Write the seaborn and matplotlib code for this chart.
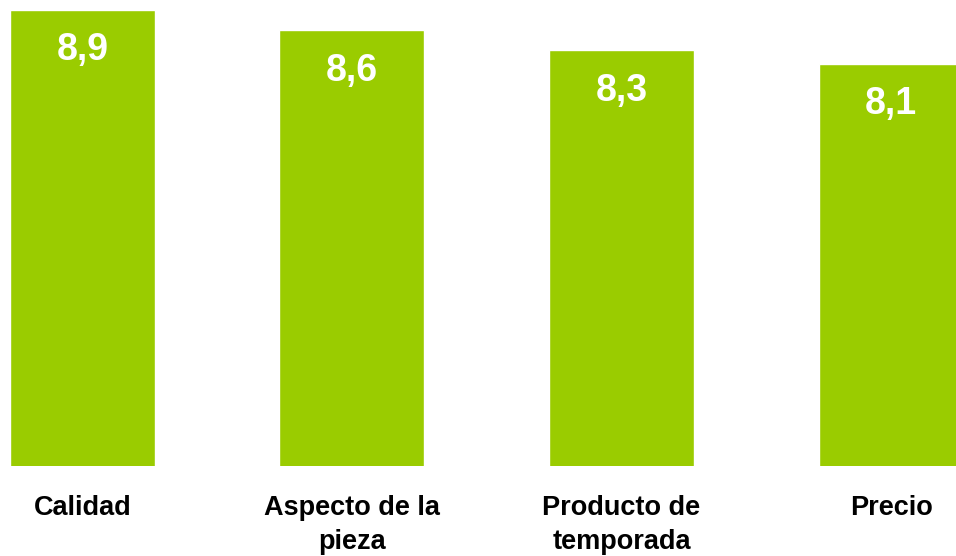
import matplotlib
matplotlib.use("Agg")
import matplotlib.pyplot as plt
import seaborn as sns
import pandas as pd

# Average score per attribute
categories = ["Calidad", "Aspecto de la\npieza", "Producto de\ntemporada", "Precio"]
scores = [8.9, 8.6, 8.3, 8.1]
score_labels = ["8,9", "8,6", "8,3", "8,1"]

df = pd.DataFrame({"categoria": categories, "nota": scores})

sns.set_theme(style="white")
plt.rcParams["font.family"] = ["Liberation Sans", "DejaVu Sans"]

fig = plt.figure(figsize=(9.56, 5.56), dpi=100)
ax = fig.add_axes([0.0, 90 / 556, 1.0, 466 / 556])

sns.barplot(data=df, x="categoria", y="nota", color="#9ACC00",
            saturation=1, width=0.538, ax=ax)

ax.set_xlim(-0.306, 3.241)
ax.set_ylim(2.144, 9.048)

for i, (v, lab) in enumerate(zip(scores, score_labels)):
    ax.text(i, v - 0.6, lab, ha="center", va="center", color="white",
            fontsize=27, fontweight="bold")

ax.set_xlabel("")
ax.set_ylabel("")
ax.set_yticks([])
ax.tick_params(axis="x", length=0, pad=21)
for t in ax.get_xticklabels():
    t.set_fontsize(19.5)
    t.set_fontweight("bold")
    t.set_color("black")
    t.set_linespacing(1.38)
    t.set_verticalalignment("top")
for s in ax.spines.values():
    s.set_visible(False)

fig.savefig("out.png", dpi=100)
